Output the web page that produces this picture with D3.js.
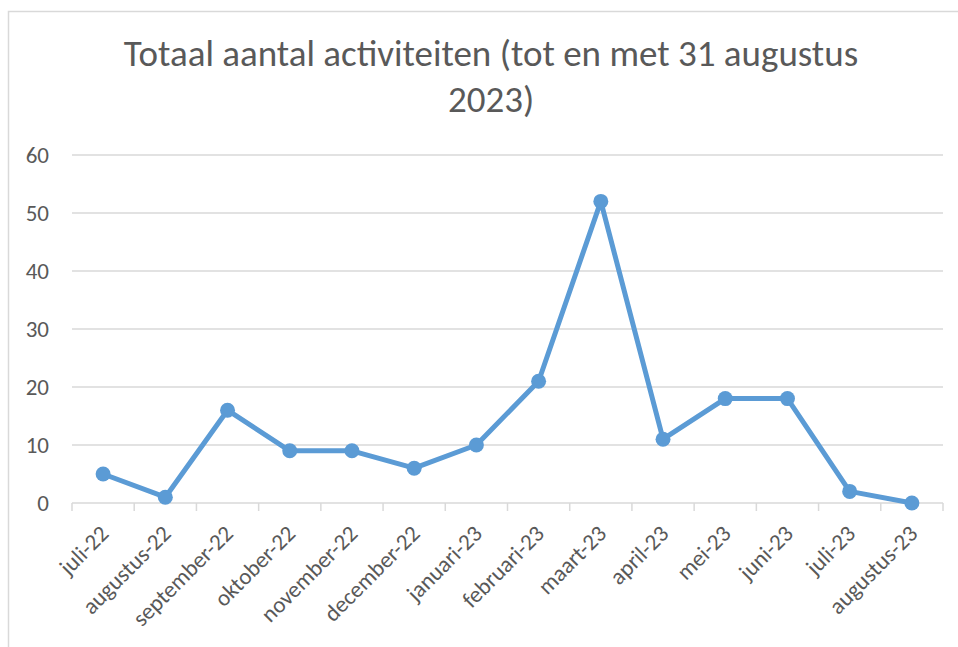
<!DOCTYPE html>
<html>
<head>
<meta charset="utf-8">
<script src="https://cdn.jsdelivr.net/npm/d3@7"></script>
<style>
  body { margin: 0; background: #fff; }
  svg { display: block; font-family: Carlito, Lato, sans-serif; }
</style>
</head>
<body>
<svg id="chart" width="958" height="647"></svg>
<script>
const titleLines = ['Totaal aantal activiteiten (tot en met 31 augustus', '2023)'];
const months = ['juli-22', 'augustus-22', 'september-22', 'oktober-22', 'november-22', 'december-22',
  'januari-23', 'februari-23', 'maart-23', 'april-23', 'mei-23', 'juni-23', 'juli-23', 'augustus-23'];
const activiteiten = [5, 1, 16, 9, 9, 6, 10, 21, 52, 11, 18, 18, 2, 0];
const yTicks = [0, 10, 20, 30, 40, 50, 60];

const textColor = '#595959';
const gridColor = '#d9d9d9';
const lineColor = '#5b9bd5';

const svg = d3.select('#chart');

// chart frame
svg.append('rect')
  .attr('x', 8.5).attr('y', 11.5)
  .attr('width', 960).attr('height', 640)
  .attr('fill', '#fff')
  .attr('stroke', gridColor)
  .attr('stroke-width', 1.5);

const title = svg.append('text')
  .attr('text-anchor', 'middle')
  .attr('fill', textColor)
  .attr('font-size', 37);
title.selectAll('tspan')
  .data(titleLines)
  .enter()
  .append('tspan')
  .attr('x', 491)
  .attr('y', (d, i) => 66 + i * 46)
  .text(d => d);

const x = d3.scaleBand().domain(months).range([72, 943]).padding(0);
const y = d3.scaleLinear().domain([0, 60]).range([503, 155]);

const g = svg.append('g');

// gridlines
g.selectAll('.grid')
  .data(yTicks.filter(t => t > 0))
  .enter()
  .append('line')
  .attr('class', 'grid')
  .attr('x1', x.range()[0]).attr('x2', x.range()[1])
  .attr('y1', d => y(d)).attr('y2', d => y(d))
  .attr('stroke', gridColor)
  .attr('stroke-width', 1.5);

// y labels
g.selectAll('.ylab')
  .data(yTicks)
  .enter()
  .append('text')
  .attr('class', 'ylab')
  .attr('x', 49)
  .attr('y', d => y(d))
  .attr('dy', '0.36em')
  .attr('text-anchor', 'end')
  .attr('fill', textColor)
  .attr('font-size', 23)
  .text(d => d);

// x axis line and ticks at category boundaries
g.append('line')
  .attr('x1', x.range()[0]).attr('x2', x.range()[1])
  .attr('y1', y(0)).attr('y2', y(0))
  .attr('stroke', gridColor)
  .attr('stroke-width', 1.5);

const bounds = months.map(m => x(m)).concat([x.range()[1]]);
g.selectAll('.xtick')
  .data(bounds)
  .enter()
  .append('line')
  .attr('class', 'xtick')
  .attr('x1', d => d).attr('x2', d => d)
  .attr('y1', y(0)).attr('y2', y(0) + 8)
  .attr('stroke', gridColor)
  .attr('stroke-width', 1.5);

const cx = m => x(m) + x.bandwidth() / 2;

g.selectAll('.xlab')
  .data(months)
  .enter()
  .append('text')
  .attr('class', 'xlab')
  .attr('text-anchor', 'end')
  .attr('fill', textColor)
  .attr('font-size', 23)
  .attr('transform', d => `translate(${cx(d) + 7}, ${y(0) + 32}) rotate(-45)`)
  .text(d => d);

// series
const points = months.map((m, i) => [cx(m), y(activiteiten[i])]);
g.append('path')
  .attr('d', d3.line()(points))
  .attr('fill', 'none')
  .attr('stroke', lineColor)
  .attr('stroke-width', 5)
  .attr('stroke-linejoin', 'round');

g.selectAll('.dot')
  .data(points)
  .enter()
  .append('circle')
  .attr('class', 'dot')
  .attr('cx', d => d[0])
  .attr('cy', d => d[1])
  .attr('r', 7.5)
  .attr('fill', lineColor);
</script>
</body>
</html>
